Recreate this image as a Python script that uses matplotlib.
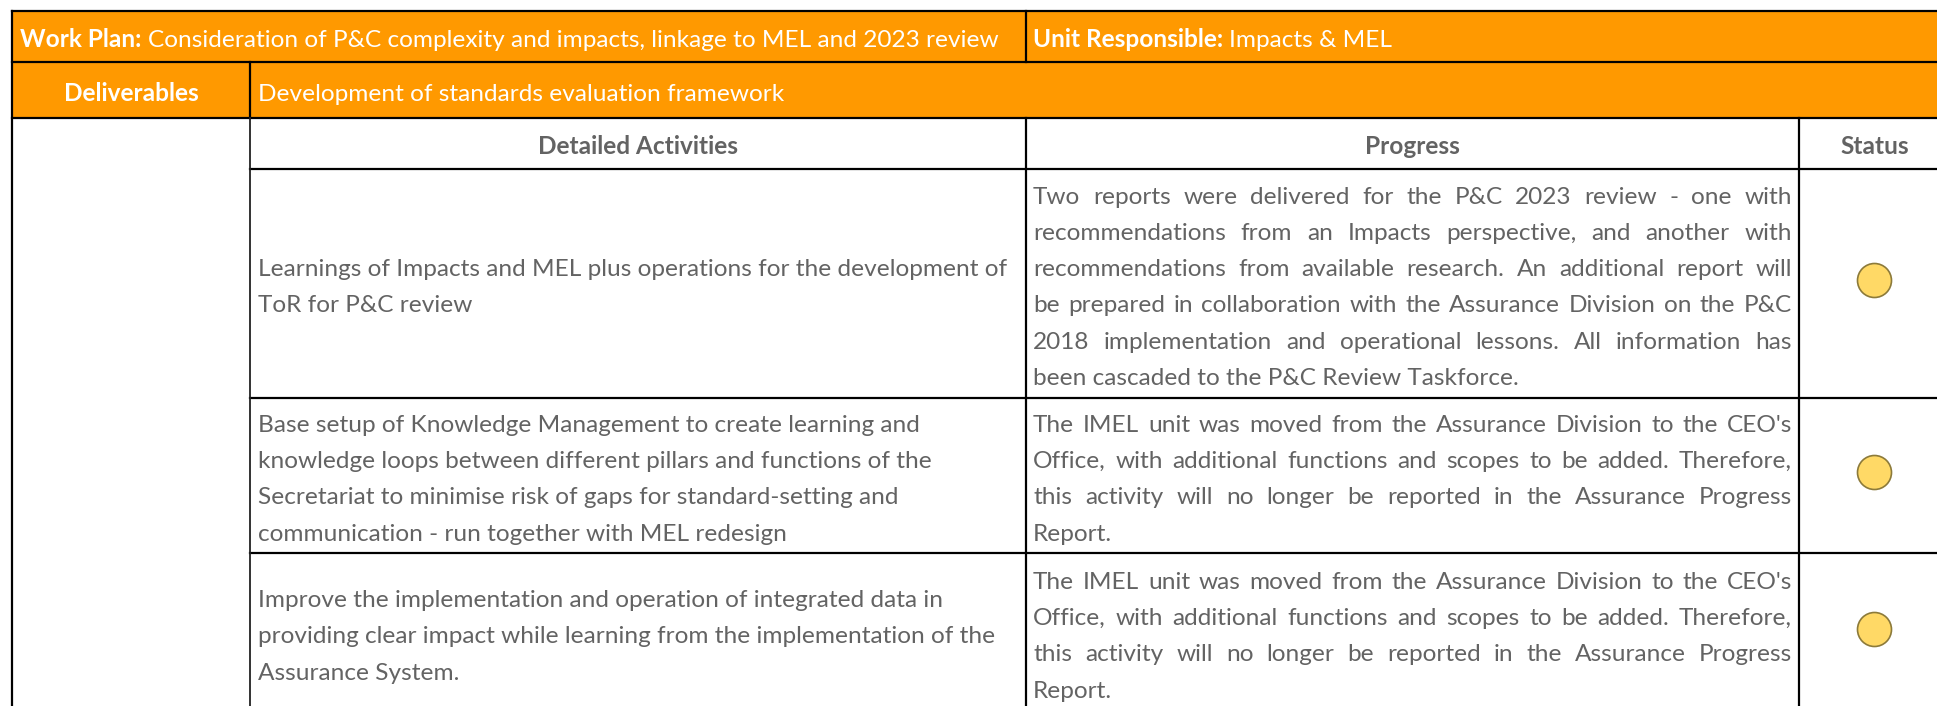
import matplotlib
matplotlib.use("Agg")
import matplotlib.pyplot as plt
from matplotlib.patches import Rectangle, Circle

# table content
work_plan_label = "Work Plan:"
work_plan = "Consideration of P&C complexity and impacts, linkage to MEL and 2023 review"
unit_label = "Unit Responsible:"
unit = "Impacts & MEL"
deliverable_label = "Deliverables"
deliverable = "Development of standards evaluation framework"
headers = ["Detailed Activities", "Progress", "Status"]

activities = [
    ["Learnings of Impacts and MEL plus operations for the development of",
     "ToR for P&C review"],
    ["Base setup of Knowledge Management to create learning and",
     "knowledge loops between different pillars and functions of the",
     "Secretariat to minimise risk of gaps for standard-setting and",
     "communication - run together with MEL redesign"],
    ["Improve the implementation and operation of integrated data in",
     "providing clear impact while learning from the implementation of the",
     "Assurance System."],
]
progress = [
    ["Two reports were delivered for the P&C 2023 review - one with",
     "recommendations from an Impacts perspective, and another with",
     "recommendations from available research. An additional report will",
     "be prepared in collaboration with the Assurance Division on the  P&C",
     "2018 implementation and operational lessons. All information has",
     "been cascaded to the P&C Review Taskforce."],
    ["The IMEL unit was moved from the Assurance Division to the CEO's",
     "Office, with additional functions and scopes to be added. Therefore,",
     "this activity will no longer be reported in the Assurance Progress",
     "Report."],
    ["The IMEL unit was moved from the Assurance Division to the CEO's",
     "Office, with additional functions and scopes to be added. Therefore,",
     "this activity will no longer be reported in the Assurance Progress",
     "Report."],
]
status = ["amber", "amber", "amber"]
status_colors = {"amber": ("#FFD966", "#8C7A3A")}

plt.rcParams['font.family'] = ['Lato', 'DejaVu Sans']

W, H = 1937, 706
fig = plt.figure(figsize=(W / 100, H / 100), dpi=100)
ax = fig.add_axes([0, 0, 1, 1])
ax.set_xlim(0, W)
ax.set_ylim(H, 0)
ax.axis('off')
renderer = fig.canvas.get_renderer()

orange = '#FF9900'
grey = '#636363'
FS = 17.6
LS = 36.3
cap = 0.72 * FS * 100 / 72

# grid edges in pixels
xs = [12, 250, 1026, 1799, 1950]
ys = [11, 62, 118, 169, 398, 553, 712]


def tw(s, **kw):
    t = ax.text(0, 0, s, fontsize=FS, **kw)
    w = t.get_window_extent(renderer).width
    t.remove()
    return w


space = tw("a a") - tw("aa")


def base(yc, i, n):
    return yc + (i - (n - 1) / 2) * LS + cap / 2 + 2


# orange header band
ax.add_patch(Rectangle((xs[0], ys[0]), xs[4] - xs[0], ys[2] - ys[0],
                       facecolor=orange, edgecolor='none'))

lw = 1.6
for y, xa in [(ys[0], xs[0]), (ys[1], xs[0]), (ys[2], xs[0]),
              (ys[3], xs[1]), (ys[4], xs[1]), (ys[5], xs[1])]:
    ax.plot([xa, xs[4]], [y, y], color='black', lw=lw, solid_capstyle='projecting')
ax.plot([xs[0], xs[0]], [ys[0], H + 10], color='black', lw=lw)
ax.plot([xs[2], xs[2]], [ys[0], ys[1]], color='black', lw=lw)
ax.plot([xs[1], xs[1]], [ys[1], ys[2]], color='black', lw=lw)
ax.plot([xs[1], xs[1]], [ys[2], H + 10], color='#222222', lw=1.3)
for x in xs[2:4]:
    ax.plot([x, x], [ys[2], H + 10], color='black', lw=lw)

# row 1: work plan / unit responsible
yc = (ys[0] + ys[1]) / 2
for x, lab, txt in [(xs[0] + 8, work_plan_label, work_plan),
                    (xs[2] + 7, unit_label, unit)]:
    ax.text(x, base(yc, 0, 1), lab, fontsize=FS, color='white',
            fontweight='bold', va='baseline')
    ax.text(x + tw(lab, fontweight='bold') + space, base(yc, 0, 1), txt,
            fontsize=FS, color='white', va='baseline')

# row 2: deliverables
yc = (ys[1] + ys[2]) / 2
ax.text((xs[0] + xs[1]) / 2, base(yc, 0, 1), deliverable_label, fontsize=FS,
        color='white', fontweight='bold', ha='center', va='baseline')
ax.text(xs[1] + 8, base(yc, 0, 1), deliverable, fontsize=FS, color='white',
        va='baseline')

# row 3: column headers
yc = (ys[2] + ys[3]) / 2
for i, h in enumerate(headers):
    ax.text((xs[i + 1] + xs[i + 2]) / 2, base(yc, 0, 1), h, fontsize=FS,
            color=grey, fontweight='bold', ha='center', va='baseline')

# body rows
px0, px1 = xs[2] + 7, xs[3] - 7
for r in range(3):
    yc = (ys[3 + r] + ys[4 + r]) / 2
    lines = activities[r]
    for i, line in enumerate(lines):
        ax.text(xs[1] + 8, base(yc, i, len(lines)), line, fontsize=FS,
                color=grey, va='baseline')
    lines = progress[r]
    for i, line in enumerate(lines):
        yb = base(yc, i, len(lines))
        if i == len(lines) - 1:
            ax.text(px0, yb, line, fontsize=FS, color=grey, va='baseline')
            continue
        words = line.split()
        widths = [tw(w) for w in words]
        gap = (px1 - px0 - sum(widths)) / (len(words) - 1)
        x = px0
        for w, wd in zip(words, widths):
            ax.text(x, yb, w, fontsize=FS, color=grey, va='baseline')
            x += wd + gap
    fc, ec = status_colors[status[r]]
    ax.add_patch(Circle(((xs[3] + xs[4]) / 2, yc - 3), 17, facecolor=fc,
                        edgecolor=ec, lw=1.2))

fig.savefig('out.png', dpi=100, facecolor='white')
